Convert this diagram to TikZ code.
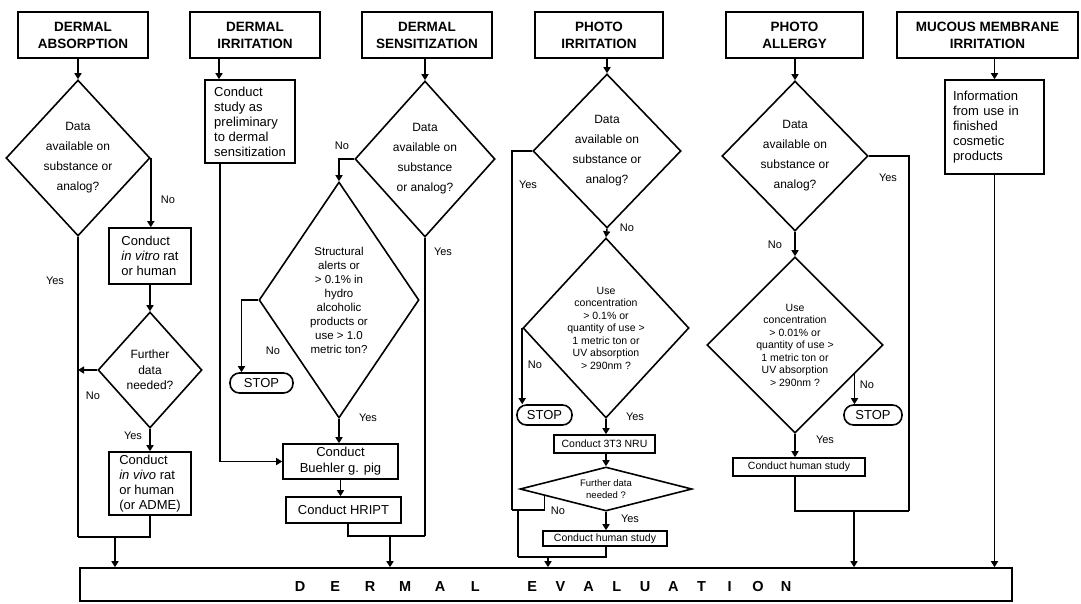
\documentclass[tikz,border=0pt]{standalone}
\usepackage{fontspec}
\setmainfont{Liberation Sans}
\usetikzlibrary{shapes.geometric,arrows.meta,calc}
\newcommand\EvWa[1]{\makebox[35pt]{#1}}
\newcommand\EvWb[1]{\makebox[28.2pt]{#1}}
\begin{document}
\begin{tikzpicture}[x=1pt,y=-1pt,
  hdr/.style={draw, line width=1.7pt, minimum height=46pt, inner sep=0pt, align=center, font=\bfseries\fontsize{13.5}{17}\selectfont},
  dia/.style={draw, diamond, line width=1.6pt, inner sep=0pt},
  dtxt/.style={align=center, inner sep=0pt},
  dbig/.style={dtxt, font=\fontsize{12}{20}\selectfont},
  sbox/.style={draw, line width=1.6pt, inner sep=0pt, align=center},
  lbox/.style={draw, line width=1.6pt, align=left, inner ysep=0pt, font=\fontsize{13}{15}\selectfont},
  stopbox/.style={draw, line width=1.6pt, rounded corners=9.5pt, inner sep=0pt, minimum height=20pt, font=\fontsize{13}{15}\selectfont},
  lbl/.style={inner sep=0pt, font=\fontsize{11}{13}\selectfont},
  conn/.style={line width=1.5pt},
  arr/.style={conn, -{Triangle[length=6pt,width=7pt]}}]
\useasboundingbox (0,0) rectangle (1081,603);

% headers
\node[hdr, minimum width=130pt] (hA) at (83,35) {DERMAL\\ABSORPTION};
\node[hdr, minimum width=130pt] (hI) at (255,35) {DERMAL\\IRRITATION};
\node[hdr, minimum width=130pt] (hS) at (427,35) {DERMAL\\SENSITIZATION};
\node[hdr, minimum width=128pt] (hP) at (599,35) {PHOTO\\IRRITATION};
\node[hdr, minimum width=137pt] (hL) at (794.5,35) {PHOTO\\ALLERGY};
\node[hdr, minimum width=181pt] (hM) at (987.5,35) {MUCOUS MEMBRANE\\IRRITATION};

% evaluation
\node[draw, line width=1.6pt, minimum width=932pt, minimum height=33pt, inner sep=0pt] (ev) at (546,584.5) {};
\node[anchor=base west, inner sep=0pt, font=\bfseries\fontsize{14.5}{16}\selectfont] (evt) at (282.5,591.5) {\EvWa{D}\EvWa{E}\EvWa{R}\EvWa{M}\EvWa{A}\EvWa{L}\hspace{25.5pt}\EvWb{E}\EvWb{V}\EvWb{A}\EvWb{L}\EvWb{U}\EvWb{A}\EvWb{T}\EvWb{I}\EvWb{O}\EvWb{N}};

% dermal absorption
\node[dia, minimum width=144pt, minimum height=156pt] (dA1) at (78,158) {};
\node[dbig] (dA1t) at (dA1) {Data\\available on\\substance or\\analog?};
\node[lbox, minimum width=82pt, minimum height=56pt] (bA1) at (150,256) {Conduct\\\textit{in vitro} rat\\or human};
\node[dia, minimum width=104pt, minimum height=116pt] (dA2) at (150,370) {};
\node[dtxt, font=\fontsize{12}{15.5}\selectfont] (dA2t) at (dA2) {Further\\data\\needed?};
\node[lbox, minimum width=82pt, minimum height=63pt] (bA2) at (150,483.5) {Conduct\\\textit{in vivo} rat\\or human\\(or ADME)};
\coordinate (jA1) at (78,537);
\coordinate (jA2) at (115,537);
\draw[arr] (hA.south -| dA1.north) -- (dA1.north);
\draw[arr] (dA1.east) -- (dA1.east |- bA1.north);
\draw[arr] (bA1.south) -- (dA2.north);
\draw[arr] (dA2.west) -- (dA2.west -| dA1.south);
\draw[arr] (dA2.south) -- (bA2.north);
\draw[conn] (dA1.south) -- (jA1);
\draw[conn] (bA2.south) |- (jA1);
\draw[arr] (jA2) -- (jA2 |- ev.north);
\node[lbl] (lA1) at (168,200) {No};
\node[lbl] (lA2) at (55,281) {Yes};
\node[lbl] (lA3) at (93,396) {No};
\node[lbl] (lA4) at (133,436) {Yes};

% dermal sensitization (nodes first, used by irritation)
\node[dia, minimum width=140pt, minimum height=156pt] (dS1) at (425,159) {};
\node[dbig] (dS1t) at (dS1) {Data\\available on\\substance\\or analog?};
\node[dia, minimum width=160pt, minimum height=236pt] (dS2) at (339,300) {};
\node[dtxt, font=\fontsize{11.5}{14}\selectfont] (dS2t) at (dS2) {Structural\\alerts or\\> 0.1\% in\\hydro\\alcoholic\\products or\\use > 1.0\\metric ton?};
\node[stopbox, minimum width=63pt] (stS) at (261.5,383) {STOP};
\node[sbox, minimum width=115pt, minimum height=35pt, font=\fontsize{13}{16}\selectfont] (bS3) at (340.5,461.5) {Conduct\\Buehler g. pig};
\node[sbox, minimum width=115pt, minimum height=26pt, font=\fontsize{13}{15}\selectfont] (bS4) at (343.5,510) {Conduct HRIPT};
\coordinate (jS1) at (425,536);
\coordinate (jS2) at (390,536);
\coordinate (cS1) at ([xshift=-20pt]stS.north);
\coordinate (cS2) at ([xshift=4.5pt]bS4.south);
\draw[arr] (hS.south -| dS1.north) -- (dS1.north);
\draw[arr] (dS1.west) -| (dS2.north);
\draw[arr] (dS2.west) -| (cS1);
\draw[arr] (dS2.south) -- (dS2.south |- bS3.north);
\draw[arr] (bS3.south) -- (bS3.south |- bS4.north);
\draw[conn] (dS1.south) -- (jS1);
\draw[conn] (cS2) |- (jS1);
\draw[arr] (jS2) -- (jS2 |- ev.north);
\node[lbl] (lS1) at (342,146) {No};
\node[lbl] (lS2) at (273,351) {No};
\node[lbl] (lS3) at (368,418) {Yes};
\node[lbl] (lS4) at (443,252) {Yes};

% dermal irritation
\node[lbox, minimum width=90pt, minimum height=83pt] (bI) at (250,121.5) {Conduct\\study as\\preliminary\\to dermal\\sensitization};
\coordinate (cI1) at ([xshift=-31pt]bI.north);
\coordinate (cI2) at ([xshift=-30pt]bI.south);
\draw[arr] (cI1 |- hI.south) -- (cI1);
\draw[arr] (cI2) |- (bS3.west);

% photo irritation
\node[dia, minimum width=148pt, minimum height=154pt] (dP1) at (607,151) {};
\node[dbig] (dP1t) at (dP1) {Data\\available on\\substance or\\analog?};
\node[dia, minimum width=166pt, minimum height=180pt] (dP2) at (606,328) {};
\node[dtxt, font=\fontsize{10.5}{12.5}\selectfont] (dP2t) at (dP2) {Use\\concentration\\> 0.1\% or\\quantity of use >\\1 metric ton or\\UV absorption\\> 290nm ?};
\node[stopbox, minimum width=55pt] (stP) at (544.5,415) {STOP};
\node[sbox, minimum width=101pt, minimum height=18pt, font=\fontsize{10.5}{12}\selectfont] (bP3) at (604.5,444) {Conduct 3T3 NRU};
\node[dia, minimum width=172pt, minimum height=44pt] (dP3) at (606,489) {};
\node[dtxt, font=\fontsize{9.5}{11.5}\selectfont] (dP3t) at (dP3) {Further data\\needed ?};
\node[sbox, minimum width=124pt, minimum height=15pt, font=\fontsize{10.5}{12}\selectfont] (bP4) at (605,538.5) {Conduct human study};
\coordinate (jP1) at (512,510);
\coordinate (jP2) at (518,557);
\coordinate (jP3) at (548,557);
\coordinate (cP1) at ($(dP3.west)!0.29!(dP3.south)$);
\draw[arr] (hP.south -| dP1.north) -- (dP1.north);
\draw[conn] (dP1.west) -| (jP1);
\draw[arr] (dP1.south) -- (dP2.north);
\draw[arr] (dP2.west) -- (dP2.west |- stP.north);
\draw[arr] (dP2.south) -- (dP2.south |- bP3.north);
\draw[arr] (dP3.north |- bP3.south) -- (dP3.north);
\draw[conn] (cP1) |- (jP1);
\draw[arr] (dP3.south) -- (dP3.south |- bP4.north);
\draw[conn] (jP2 |- jP1) -- (jP2);
\draw[conn] (dP3.south |- bP4.south) |- (jP2);
\draw[arr] (jP3) -- (jP3 |- ev.north);
\node[lbl] (lP1) at (528,185) {Yes};
\node[lbl] (lP2) at (627,228) {No};
\node[lbl] (lP3) at (535,365) {No};
\node[lbl] (lP4) at (635,417) {Yes};
\node[lbl] (lP5) at (558,511) {No};
\node[lbl] (lP6) at (630,519) {Yes};

% photo allergy
\node[dia, minimum width=146pt, minimum height=150pt] (dL1) at (795,156) {};
\node[dbig] (dL1t) at (dL1) {Data\\available on\\substance or\\analog?};
\node[dia, minimum width=176pt, minimum height=176pt] (dL2) at (795,345) {};
\node[dtxt, font=\fontsize{10.5}{12.5}\selectfont] (dL2t) at (dL2) {Use\\concentration\\> 0.01\% or\\quantity of use >\\1 metric ton or\\UV absorption\\> 290nm ?};
\node[stopbox, minimum width=58pt] (stL) at (873,415) {STOP};
\node[sbox, minimum width=132pt, minimum height=18pt, font=\fontsize{10.5}{12}\selectfont] (bL3) at (799,467) {Conduct human study};
\coordinate (jL1) at (909,511);
\coordinate (jL2) at (854,511);
\coordinate (cL1) at ($(dL2.east)!0.33!(dL2.south)$);
\draw[arr] (hL.south -| dL1.north) -- (dL1.north);
\draw[conn] (dL1.east) -| (jL1);
\draw[arr] (dL1.south) -- (dL2.north);
\draw[arr] (cL1) -- (cL1 |- stL.north);
\draw[arr] (dL2.south) -- (dL2.south |- bL3.north);
\draw[conn] (dL2.south |- bL3.south) |- (jL1);
\draw[arr] (jL2) -- (jL2 |- ev.north);
\node[lbl] (lL1) at (888,178) {Yes};
\node[lbl] (lL2) at (775,245) {No};
\node[lbl] (lL3) at (867,385) {No};
\node[lbl] (lL4) at (825,440) {Yes};

% mucous membrane
\node[lbox, minimum width=99pt, minimum height=94pt, text width=83pt, inner xsep=8pt] (bM) at (994.5,127) {Information\\from use in\\finished\\cosmetic\\products};
\draw[arr] (hM.south -| bM.north) -- (bM.north);
\draw[arr] (bM.south) -- (bM.south |- ev.north);
\end{tikzpicture}
\end{document}
